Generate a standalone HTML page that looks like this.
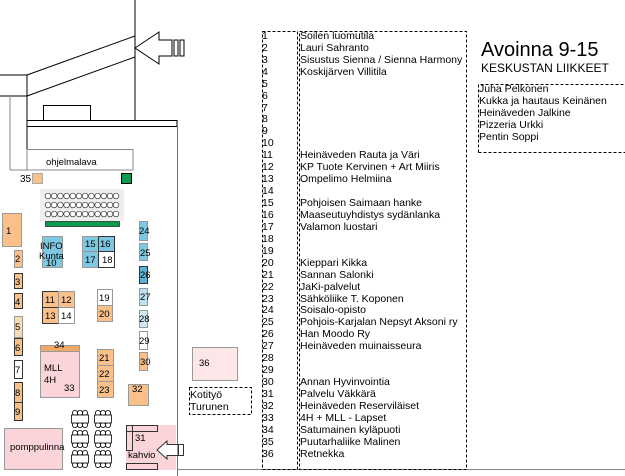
<!DOCTYPE html>
<html><head><meta charset="utf-8"><style>
html,body{margin:0;padding:0;background:#fff;width:625px;height:476px;overflow:hidden}
svg{display:block;font-family:"Liberation Sans",Arial,sans-serif}
.n{font-size:10px;fill:#000}
.l{font-size:10.5px;fill:#000}
</style></head><body>
<svg width="625" height="476" viewBox="0 0 625 476" xmlns="http://www.w3.org/2000/svg">
<defs>
<g id="tbl">
<circle cx="-5" cy="-6" r="2.6" fill="#fff" stroke="#000" stroke-width="0.8"/>
<circle cx="0" cy="-6" r="2.6" fill="#fff" stroke="#000" stroke-width="0.8"/>
<circle cx="5" cy="-6" r="2.6" fill="#fff" stroke="#000" stroke-width="0.8"/>
<circle cx="-5" cy="6" r="2.6" fill="#fff" stroke="#000" stroke-width="0.8"/>
<circle cx="0" cy="6" r="2.6" fill="#fff" stroke="#000" stroke-width="0.8"/>
<circle cx="5" cy="6" r="2.6" fill="#fff" stroke="#000" stroke-width="0.8"/>
<rect x="-8.5" y="-4" width="17" height="8" fill="#fff" stroke="#000" stroke-width="0.8"/>
</g>
</defs>
<g fill="none" stroke="#000" stroke-width="1">
<line x1="135" y1="0" x2="135" y2="120"/>
<line x1="27" y1="75" x2="135" y2="36"/>
<line x1="27" y1="96" x2="135" y2="57"/>
<path d="M135,48 L159,32 L159,40 L172,40 L172,56 L159,56 L159,64 Z" fill="#fff"/>
<rect x="174" y="40" width="4" height="16"/>
<rect x="180" y="40" width="4" height="16"/>
<line x1="0" y1="75" x2="27" y2="75"/>
<line x1="0" y1="96" x2="27" y2="96"/>
<line x1="27" y1="75" x2="27" y2="170"/>
<rect x="43.5" y="105.5" width="47" height="15"/>
<rect x="27" y="120.5" width="150" height="6"/>
<line x1="177.5" y1="126" x2="177.5" y2="476" stroke="#777"/>
<line x1="177" y1="469.5" x2="625" y2="469.5" stroke="#888"/>
</g>
<g fill="none" stroke="#888" stroke-width="1">
<line x1="10" y1="96" x2="10" y2="170"/>
<line x1="10" y1="170" x2="133" y2="170"/>
<rect x="27" y="149.5" width="106" height="20.5"/>
</g>
<text x="46" y="165" class="n" style="font-size:9.5px">ohjelmalava</text>
<text x="20" y="182" class="n">35</text>
<rect x="32.5" y="173.5" width="10" height="10" fill="#f9c08a" stroke="#aaa"/>
<rect x="121.5" y="173.5" width="10" height="10" fill="#0a9b4e" stroke="#000"/>
<rect x="40" y="189" width="84" height="32" fill="#eee"/>
<g fill="#fff" stroke="#333" stroke-width="0.7">
<g id="crow">
<circle cx="48" cy="196" r="2.8"/><circle cx="54.2" cy="196" r="2.8"/><circle cx="60.4" cy="196" r="2.8"/><circle cx="66.6" cy="196" r="2.8"/><circle cx="72.8" cy="196" r="2.8"/><circle cx="79" cy="196" r="2.8"/><circle cx="85.2" cy="196" r="2.8"/><circle cx="91.4" cy="196" r="2.8"/><circle cx="97.6" cy="196" r="2.8"/><circle cx="103.8" cy="196" r="2.8"/><circle cx="110" cy="196" r="2.8"/><circle cx="116" cy="196" r="2.8"/>
</g>
<use href="#crow" y="9"/><use href="#crow" y="18"/>
</g>
<rect x="45.5" y="221.5" width="74" height="5" fill="#0a9b4e" stroke="#000" stroke-width="0.6"/>

<g stroke="#999" stroke-width="1">
<rect x="2.5" y="213.5" width="19" height="33" fill="#f9c08a"/>
<rect x="14.5" y="250.5" width="8" height="17" fill="#f9c08a"/>
<rect x="14.5" y="273.5" width="8" height="15" fill="#f9c08a" stroke="#333"/>
<rect x="14.5" y="293.5" width="8" height="15" fill="#f9c08a" stroke="#333"/>
<rect x="14.5" y="316.5" width="8" height="21" fill="#fcd9b5"/>
<rect x="14.5" y="338.5" width="8" height="17" fill="#f9c08a" stroke="#333"/>
<rect x="14.5" y="360.5" width="8" height="18" fill="#fff" stroke="#333"/>
<rect x="14.5" y="382.5" width="8" height="20" fill="#f9c08a" stroke="#333"/>
<rect x="14.5" y="402.5" width="8" height="18" fill="#f9c08a" stroke="#333"/>
<rect x="42.5" y="236.5" width="20" height="31" fill="#7cc8e2"/>
<rect x="82.5" y="236.5" width="16" height="15" fill="#7cc8e2"/>
<rect x="98.5" y="236.5" width="16" height="15" fill="#7cc8e2" stroke="#333"/>
<rect x="82.5" y="251.5" width="16" height="16" fill="#7cc8e2"/>
<rect x="98.5" y="251.5" width="16" height="16" fill="#fff" stroke="#333"/>
<rect x="42.5" y="291.5" width="16" height="16" fill="#f9c08a" stroke="#333"/>
<rect x="58.5" y="291.5" width="16" height="16" fill="#f9c08a"/>
<rect x="42.5" y="307.5" width="16" height="16" fill="#f9c08a" stroke="#333"/>
<rect x="58.5" y="307.5" width="16" height="16" fill="#fff"/>
<rect x="97.5" y="289.5" width="15" height="16" fill="#fff"/>
<rect x="97.5" y="305.5" width="15" height="16" fill="#f9c08a"/>
<rect x="139.5" y="221.5" width="8" height="19" fill="#7cc8e2"/>
<rect x="139.5" y="243.5" width="8" height="17" fill="#7cc8e2"/>
<rect x="139.5" y="266.5" width="8" height="17" fill="#5ab3d4" stroke="#333"/>
<rect x="139.5" y="288.5" width="8" height="17" fill="#b9e1f0"/>
<rect x="139.5" y="310.5" width="8" height="17" fill="#cfeaf5"/>
<rect x="139.5" y="331.5" width="8" height="18" fill="#fff"/>
<rect x="139.5" y="352.5" width="8" height="18" fill="#f9c08a"/>
<rect x="40.5" y="351.5" width="39" height="46" fill="#fad4d8"/>
<rect x="40.5" y="345.5" width="39" height="6" fill="#f0a868"/>
<rect x="97.5" y="349.5" width="16" height="16" fill="#f9c08a"/>
<rect x="97.5" y="365.5" width="16" height="16" fill="#f9c08a"/>
<rect x="97.5" y="381.5" width="16" height="16" fill="#f9c08a"/>
<rect x="128.5" y="384.5" width="20" height="21" fill="#f9c08a"/>
<rect x="192.5" y="347.5" width="45" height="33" fill="#fde6e8"/>
<rect x="4.5" y="428.5" width="58" height="41" fill="#fad4d8"/>
<rect x="126" y="425" width="50" height="45" fill="#fad4d8" stroke="none"/>
</g>
<g fill="none" stroke="#333" stroke-width="1">
<rect x="126.5" y="425.5" width="31" height="6"/>
<rect x="126.5" y="425.5" width="6" height="25"/>
<rect x="126.5" y="463.5" width="31" height="6"/>
<path d="M157,450 L167,441 L167,444.5 L178,444.5 L178,455.5 L167,455.5 L167,459 Z" fill="#fff"/>
<rect x="178.5" y="444.5" width="5" height="11" fill="#fff"/>
</g>
<rect x="189.5" y="387.5" width="62" height="27" fill="none" stroke="#000" stroke-dasharray="3,2"/>
<text x="190" y="398" class="l">Kotityö</text>
<text x="190" y="410" class="l">Turunen</text>
<use href="#tbl" x="80" y="419"/><use href="#tbl" x="103" y="419"/>
<use href="#tbl" x="80" y="439"/><use href="#tbl" x="103" y="439"/>
<use href="#tbl" x="80" y="459"/><use href="#tbl" x="103" y="459"/>

<g class="n" style="font-size:9.5px">
<text x="6" y="234">1</text>
<text x="15" y="262">2</text><text x="15" y="285">3</text><text x="15" y="305">4</text>
<text x="15" y="330">5</text><text x="15" y="351">6</text><text x="15" y="373">7</text>
<text x="15" y="396">8</text><text x="15" y="415">9</text>
<text x="40" y="249">INFO</text><text x="39" y="259">Kunta</text><text x="46" y="266">10</text>
<text x="85" y="247">15</text><text x="100" y="247">16</text><text x="85" y="263">17</text><text x="102" y="263">18</text>
<text x="45" y="303">11</text><text x="61" y="303">12</text><text x="45" y="319">13</text><text x="61" y="319">14</text>
<text x="99" y="301">19</text><text x="99" y="317">20</text>
<text x="139" y="234">24</text><text x="140" y="256">25</text><text x="140" y="278">26</text>
<text x="140" y="300">27</text><text x="139" y="322">28</text><text x="139" y="344">29</text><text x="140" y="365">30</text>
<text x="54" y="348">34</text>
<text x="44" y="371">MLL</text><text x="44" y="383">4H</text><text x="64" y="391">33</text>
<text x="99" y="361">21</text><text x="99" y="377">22</text><text x="99" y="393">23</text>
<text x="132" y="392">32</text>
<text x="199" y="366">36</text>
<text x="10" y="450">pomppulinna</text>
<text x="135" y="441">31</text><text x="128" y="458">kahvio</text>
</g>

<rect x="262.5" y="31.5" width="35" height="438" fill="none" stroke="#000" stroke-dasharray="3,2"/>
<rect x="299.5" y="31.5" width="167" height="438" fill="none" stroke="#000" stroke-dasharray="3,2"/>
<g class="l">
<text x="262" y="39">1</text><text x="300" y="39">Soilen luomutila</text>
<text x="262" y="51">2</text><text x="300" y="51">Lauri Sahranto</text>
<text x="262" y="63">3</text><text x="300" y="63">Sisustus Sienna / Sienna Harmony</text>
<text x="262" y="75">4</text><text x="300" y="75">Koskijärven Villitila</text>
<text x="262" y="87">5</text><text x="262" y="99">6</text><text x="262" y="111">7</text>
<text x="262" y="122">8</text><text x="262" y="134">9</text><text x="262" y="146">10</text>
<text x="262" y="158">11</text><text x="300" y="158">Heinäveden Rauta ja Väri</text>
<text x="262" y="170">12</text><text x="300" y="170">KP Tuote Kervinen + Art Miiris</text>
<text x="262" y="182">13</text><text x="300" y="182">Ompelimo Helmiina</text>
<text x="262" y="194">14</text>
<text x="262" y="206">15</text><text x="300" y="206">Pohjoisen Saimaan hanke</text>
<text x="262" y="218">16</text><text x="300" y="218">Maaseutuyhdistys sydänlanka</text>
<text x="262" y="230">17</text><text x="300" y="230">Valamon luostari</text>
<text x="262" y="242">18</text>
<text x="262" y="254">19</text>
<text x="262" y="266">20</text><text x="300" y="266">Kieppari Kikka</text>
<text x="262" y="278">21</text><text x="300" y="278">Sannan Salonki</text>
<text x="262" y="290">22</text><text x="300" y="290">JaKi-palvelut</text>
<text x="262" y="302">23</text><text x="300" y="302">Sähköliike T. Koponen</text>
<text x="262" y="313">24</text><text x="300" y="313">Soisalo-opisto</text>
<text x="262" y="325">25</text><text x="300" y="325">Pohjois-Karjalan Nepsyt Aksoni ry</text>
<text x="262" y="337">26</text><text x="300" y="337">Han Moodo Ry</text>
<text x="262" y="349">27</text><text x="300" y="349">Heinäveden muinaisseura</text>
<text x="262" y="361">28</text><text x="262" y="373">29</text>
<text x="262" y="385">30</text><text x="300" y="385">Annan Hyvinvointia</text>
<text x="262" y="397">31</text><text x="300" y="397">Palvelu Väkkärä</text>
<text x="262" y="409">32</text><text x="300" y="409">Heinäveden Reserviläiset</text>
<text x="262" y="421">33</text><text x="300" y="421">4H + MLL - Lapset</text>
<text x="262" y="433">34</text><text x="300" y="433">Satumainen kyläpuoti</text>
<text x="262" y="445">35</text><text x="300" y="445">Puutarhaliike Malinen</text>
<text x="262" y="457">36</text><text x="300" y="457">Retnekka</text>
</g>
<text x="481" y="56" style="font-size:20px">Avoinna 9-15</text>
<text x="481" y="72" style="font-size:12px">KESKUSTAN LIIKKEET</text>
<path d="M478.5,152.5 L478.5,84.5 L625,84.5 M478.5,152.5 L625,152.5" fill="none" stroke="#000" stroke-dasharray="3,2"/>
<g class="l">
<text x="479" y="92">Juha Pelkonen</text>
<text x="479" y="104">Kukka ja hautaus Keinänen</text>
<text x="479" y="116">Heinäveden Jalkine</text>
<text x="479" y="128">Pizzeria Urkki</text>
<text x="479" y="140">Pentin Soppi</text>
</g>
</svg>
</body></html>
